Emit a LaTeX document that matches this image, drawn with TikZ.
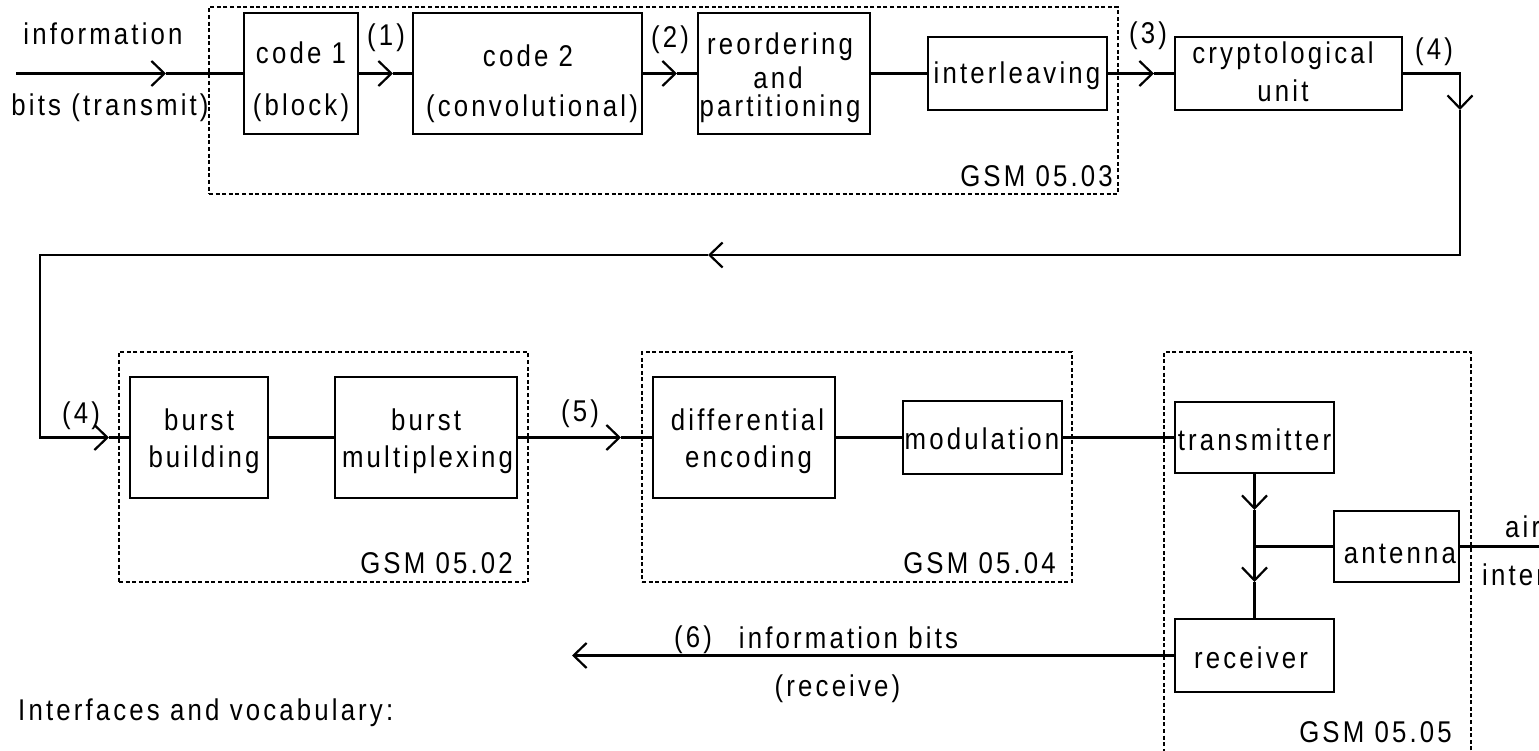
\documentclass[tikz,border=0pt]{standalone}
\usepackage{fontspec}
\setmainfont{Liberation Sans}[FakeStretch=0.86,LetterSpace=10.5]
\usetikzlibrary{arrows.meta}
\newcommand{\diagfs}{\fontsize{30}{36}\selectfont}
\begin{document}
\begin{tikzpicture}[x=1pt,y=-1pt,
  box/.style={draw, line width=2.3pt, inner sep=0pt},
  gsm/.style={draw, line width=1.7pt, dash pattern=on 4pt off 2.6pt, inner sep=0pt},
  conn/.style={line width=2.3pt},
  arr/.style={conn, -{Straight Barb[length=13pt,width=25pt,line width=2.2pt]}},
  txt/.style={inner sep=0pt, font=\diagfs, anchor=base},
  lbl/.style={inner sep=0pt, font=\diagfs},
]
\useasboundingbox (0,0) rectangle (1539,751);
\clip (0,0) rectangle (1539,751);

% dashed specification frames
\node[gsm, minimum width=909pt, minimum height=187pt] (g3) at (663.5,100.5) {};
\node[gsm, minimum width=409pt, minimum height=230pt] (g2) at (323.5,467) {};
\node[gsm, minimum width=430pt, minimum height=230pt] (g4) at (857,467) {};
\node[gsm, minimum width=307pt, minimum height=428pt] (g5) at (1317.5,566) {};

% blocks
\node[box, minimum width=114pt, minimum height=121pt] (code1) at (301,73.5) {};
\node[box, minimum width=229pt, minimum height=121pt] (code2) at (527.5,73.5) {};
\node[box, minimum width=172pt, minimum height=121pt] (reord) at (784,73.5) {};
\node[box, minimum width=179pt, minimum height=73pt] (interl) at (1017.5,73.5) {};
\node[box, minimum width=227pt, minimum height=73pt] (crypto) at (1288.5,73.5) {};
\node[box, minimum width=138pt, minimum height=121pt] (burstb) at (199,437.5) {};
\node[box, minimum width=182pt, minimum height=121pt] (burstm) at (426,437.5) {};
\node[box, minimum width=182pt, minimum height=121pt] (diff) at (744,437.5) {};
\node[box, minimum width=159pt, minimum height=73pt] (modul) at (982.5,437.5) {};
\node[box, minimum width=159pt, minimum height=71pt] (trans) at (1254.5,437.5) {};
\node[box, minimum width=125pt, minimum height=71pt] (antenna) at (1396.5,546.5) {};
\node[box, minimum width=159pt, minimum height=73pt] (recv) at (1254.5,655.5) {};

% connector points
\coordinate (in) at (16,73.5);
\coordinate (a0) at (166,73.5);
\coordinate (a1) at (393,73.5);
\coordinate (a2) at (677,73.5);
\coordinate (a3) at (1154,73.5);
\coordinate (c1) at (1460,73.5);
\coordinate (a4) at (1460,110);
\coordinate (c2) at (1460,255);
\coordinate (a5) at (708,255);
\coordinate (c3) at (40,255);
\coordinate (c4) at (40,437.5);
\coordinate (a6) at (109,437.5);
\coordinate (a7) at (621,437.5);
\coordinate (a8) at (1254.5,510);
\coordinate (jn) at (1254.5,546.5);
\coordinate (a9) at (1254.5,582);
\coordinate (airend) at (1560,546.5);
\coordinate (a10) at (572,655.5);

% connectors
\draw[arr] (in) -- (a0);
\draw[conn] (a0) -- (code1.west);
\draw[arr] (code1.east) -- (a1);
\draw[conn] (a1) -- (code2.west);
\draw[arr] (code2.east) -- (a2);
\draw[conn] (a2) -- (reord.west);
\draw[conn] (reord.east) -- (interl.west);
\draw[arr] (interl.east) -- (a3);
\draw[conn] (a3) -- (crypto.west);
\draw[arr] (crypto.east) -- (c1) -- (a4);
\draw[arr] (a4) -- (c2) -- (a5);
\draw[arr] (a5) -- (c3) -- (c4) -- (a6);
\draw[conn] (a6) -- (burstb.west);
\draw[conn] (burstb.east) -- (burstm.west);
\draw[arr] (burstm.east) -- (a7);
\draw[conn] (a7) -- (diff.west);
\draw[conn] (diff.east) -- (modul.west);
\draw[conn] (modul.east) -- (trans.west);
\draw[arr] (trans.south) -- (a8);
\draw[conn] (a8) -- (jn);
\draw[arr] (jn) -- (a9);
\draw[conn] (a9) -- (recv.north);
\draw[conn] (jn) -- (antenna.west);
\draw[conn] (antenna.east) -- (airend);
\draw[arr] (recv.west) -- (a10);

% texts
\node[txt] (tinfo) at (103,45) {information};
\node[txt] (tbits) at (110,116) {bits (transmit)};
\node[txt] (tc1a) at (301,64) {code 1};
\node[txt] (tc1b) at (301,116) {(block)};
\node[txt] (tc2a) at (528,67) {code 2};
\node[txt] (tc2b) at (532,117) {(convolutional)};
\node[txt] (tra) at (780,55) {reordering};
\node[txt] (trb) at (778,89) {and};
\node[txt] (trc) at (780,117) {partitioning};
\node[txt] (tint) at (1017,84) {interleaving};
\node[txt] (tcra) at (1283,64) {cryptological};
\node[txt] (tcrb) at (1283,102) {unit};
\node[txt] (tbba) at (199,430) {burst};
\node[txt] (tbbb) at (204,467) {building};
\node[txt] (tbma) at (426,430) {burst};
\node[txt] (tbmb) at (427.5,467) {multiplexing};
\node[txt] (tdea) at (747.5,430) {differential};
\node[txt] (tdeb) at (748.5,467) {encoding};
\node[txt] (tmod) at (982,449) {modulation};
\node[txt] (ttr) at (1254.5,450) {transmitter};
\node[txt] (tant) at (1400,563) {antenna};
\node[txt] (trec) at (1251,668) {receiver};
\node[txt, anchor=base west] (tair) at (1505,537) {air};
\node[txt, anchor=base west] (tintf) at (1482,585) {interface};
\node[txt] (tib) at (848.5,648) {information bits};
\node[txt] (trcv) at (837.5,696) {(receive)};
\node[txt, anchor=base west] (tiv) at (18,720) {Interfaces and vocabulary:};

% interface numbers
\node[lbl] (n1) at (386,38) {(1)};
\node[lbl] (n2) at (670,40) {(2)};
\node[lbl] (n3) at (1148,36) {(3)};
\node[lbl] (n4a) at (1434,52) {(4)};
\node[lbl] (n4b) at (81,416) {(4)};
\node[lbl] (n5) at (580,414) {(5)};
\node[lbl] (n6) at (693,640) {(6)};

% frame labels
\node[txt, anchor=base east] (l3) at (1113,187) {GSM 05.03};
\node[txt, anchor=base east] (l2) at (513,573) {GSM 05.02};
\node[txt, anchor=base east] (l4) at (1056,573) {GSM 05.04};
\node[txt, anchor=base east] (l5) at (1452,742) {GSM 05.05};
\end{tikzpicture}
\end{document}
